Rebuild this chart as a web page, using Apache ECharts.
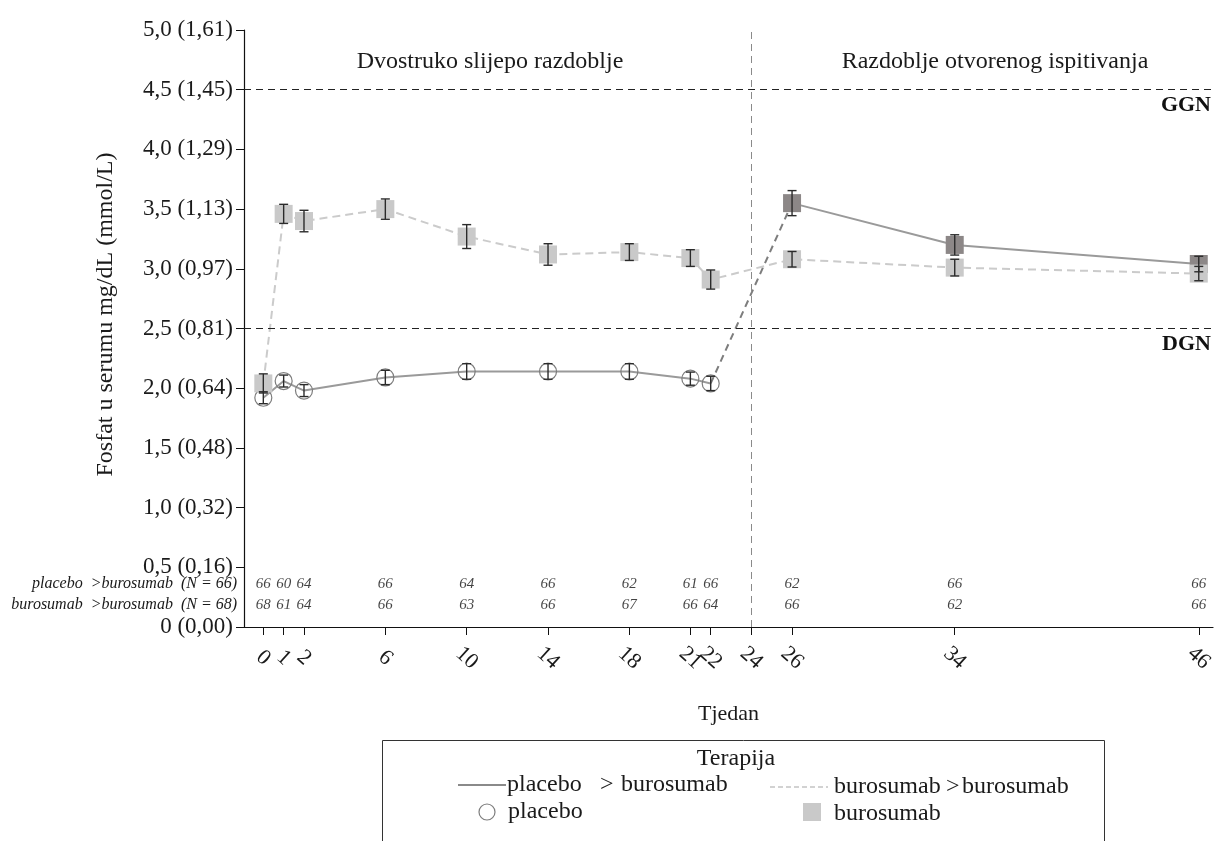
<!DOCTYPE html>
<html><head><meta charset="utf-8">
<script src="https://cdn.jsdelivr.net/npm/echarts@6/dist/echarts.min.js"></script>
<style>html,body{margin:0;padding:0;background:#fff}#c{width:1219px;height:841px}</style>
</head><body><div id="c"></div>
<script>
const weeks = [0,1,2,6,10,14,18,21,22,26,34,46];
const placeboMean = [1.92,2.06,1.98,2.09,2.14,2.14,2.14,2.08,2.04,3.55,3.20,3.04];
const placeboErr  = [0.05,0.05,0.05,0.06,0.065,0.065,0.065,0.055,0.06,0.105,0.085,0.065];
const burosumabMean = [2.04,3.46,3.40,3.50,3.27,3.12,3.14,3.09,2.91,3.08,3.01,2.96];
const burosumabErr  = [0.08,0.08,0.09,0.085,0.10,0.09,0.07,0.07,0.08,0.065,0.07,0.06];
const placeboN   = [66,60,64,66,64,66,62,61,66,62,66,66];
const burosumabN = [68,61,64,66,63,66,67,66,64,66,62,66];
const xTickLabels = ['0','1','2','6','10','14','18','21','22','24','26','34','46'];
const yTickLabels = ['0 (0,00)','0,5 (0,16)','1,0 (0,32)','1,5 (0,48)','2,0 (0,64)','2,5 (0,81)','3,0 (0,97)','3,5 (1,13)','4,0 (1,29)','4,5 (1,45)','5,0 (1,61)'];
const ULN = 4.5, LLN = 2.5, SWITCH_WEEK = 24;
const rowLabels = ['placebo  >burosumab  (N = 66)', 'burosumab  >burosumab  (N = 68)'];

const SERIF = '"Liberation Serif", "DejaVu Serif", serif';
const xTickVals = xTickLabels.map(Number);

function pts(mean, idx) { return idx.map(i => [weeks[i], mean[i]]); }
const dbIdx = [0,1,2,3,4,5,6,7,8], trIdx = [8,9], olIdx = [9,10,11], allIdx = weeks.map((_,i)=>i);

function errSeries(mean, err, z) {
  return {
    type: 'custom', z: z, silent: true,
    encode: {x: 0, y: [1, 2]},
    data: weeks.map((w, i) => [w, mean[i] - err[i], mean[i] + err[i]]),
    renderItem: function (params, api) {
      const lo = api.coord([api.value(0), api.value(1)]);
      const hi = api.coord([api.value(0), api.value(2)]);
      const cap = 4.5;
      const style = {stroke: '#2b2b2b', lineWidth: 1.4};
      return {type: 'group', children: [
        {type: 'line', shape: {x1: lo[0], y1: lo[1], x2: hi[0], y2: hi[1]}, style: style},
        {type: 'line', shape: {x1: lo[0]-cap, y1: lo[1], x2: lo[0]+cap, y2: lo[1]}, style: style},
        {type: 'line', shape: {x1: hi[0]-cap, y1: hi[1], x2: hi[0]+cap, y2: hi[1]}, style: style}
      ]};
    }
  };
}

function nSeries(nArr, yPos) {
  return {
    type: 'scatter', z: 8, silent: true, symbolSize: 0,
    data: weeks.map((w, i) => [w, yPos, nArr[i]]),
    label: {show: true, position: 'inside', formatter: p => String(p.data[2]),
      fontFamily: SERIF, fontStyle: 'italic', fontSize: 15, color: '#141414'}
  };
}

function txt(text, x, y, size, align, extra) {
  return {type: 'text', style: Object.assign({text: text, x: x, y: y, align: align || 'left',
    verticalAlign: 'middle', font: (extra || '') + size + 'px ' + SERIF, fill: '#1a1a1a'})};
}

const chart = echarts.init(document.getElementById('c'));
chart.setOption({
  animation: false,
  backgroundColor: '#ffffff',
  grid: {left: 244, right: 6, top: 30, bottom: 214},
  xAxis: {
    type: 'value', min: -0.95, max: 46.7,
    name: 'Tjedan', nameLocation: 'middle', nameGap: 76,
    nameTextStyle: {fontFamily: SERIF, fontSize: 22, color: '#1a1a1a'},
    splitLine: {show: false},
    axisLine: {onZero: false, lineStyle: {color: '#111', width: 1.2}},
    axisTick: {customValues: xTickVals, length: 8, lineStyle: {color: '#111'}},
    axisLabel: {customValues: xTickVals, rotate: -42, align: 'center', verticalAlign: 'middle',
      margin: 31, fontFamily: SERIF, fontSize: 22, color: '#1a1a1a',
      formatter: v => String(v)}
  },
  yAxis: {
    type: 'value', min: 0, max: 5, interval: 0.5,
    name: 'Fosfat u serumu mg/dL (mmol/L)', nameLocation: 'middle', nameRotate: 90, nameGap: 126,
    nameTextStyle: {fontFamily: SERIF, fontSize: 24, color: '#1a1a1a', padding: [0, 0, 0, 28]},
    splitLine: {show: false},
    axisLine: {show: true, onZero: false, lineStyle: {color: '#111', width: 1.2}},
    axisTick: {show: true, length: 8, lineStyle: {color: '#111'}},
    axisLabel: {fontFamily: SERIF, fontSize: 23, color: '#1a1a1a', margin: 11,
      formatter: v => yTickLabels[Math.round(v / 0.5)]}
  },
  series: [
    {
      type: 'scatter', data: [], silent: true, z: 1,
      markLine: {
        silent: true, symbol: 'none', animation: false,
        data: [
          {yAxis: ULN, lineStyle: {color: '#222', type: [7, 5], width: 1.2},
            label: {show: true, position: 'insideEndBottom', formatter: 'GGN', distance: [2, 5],
              fontFamily: SERIF, fontSize: 22, fontWeight: 'bold', color: '#111'}},
          {yAxis: LLN, lineStyle: {color: '#222', type: [7, 5], width: 1.2},
            label: {show: true, position: 'insideEndBottom', formatter: 'DGN', distance: [2, 5],
              fontFamily: SERIF, fontSize: 22, fontWeight: 'bold', color: '#111'}},
          {xAxis: SWITCH_WEEK, lineStyle: {color: '#8a8a8a', type: [7, 5], width: 1},
            label: {show: false}}
        ]
      }
    },
    {
      name: 'placebo DB', type: 'line', z: 3, data: pts(placeboMean, dbIdx),
      symbol: 'circle', symbolSize: 17,
      itemStyle: {color: 'rgba(255,255,255,0)', borderColor: '#7d7d7d', borderWidth: 1.2},
      lineStyle: {color: '#9a9a9a', width: 2, type: 'solid'}
    },
    {
      name: 'placebo switch', type: 'line', z: 2, data: pts(placeboMean, trIdx),
      symbol: 'none', lineStyle: {color: '#7d7d7d', width: 2, type: [7, 5]}
    },
    {
      name: 'placebo OL', type: 'line', z: 3, data: pts(placeboMean, olIdx),
      symbol: 'rect', symbolSize: 18,
      itemStyle: {color: '#8c8787'},
      lineStyle: {color: '#9a9a9a', width: 2, type: 'solid'}
    },
    {
      name: 'burosumab', type: 'line', z: 4, data: pts(burosumabMean, allIdx),
      symbol: 'rect', symbolSize: 18,
      itemStyle: {color: '#c9c9c9'},
      lineStyle: {color: '#cbcbcb', width: 2, type: [8, 5]}
    },
    errSeries(placeboMean, placeboErr, 6),
    errSeries(burosumabMean, burosumabErr, 6),
    nSeries(placeboN, 0.36),
    nSeries(burosumabN, 0.185)
  ],
  graphic: [
    txt('Dvostruko slijepo razdoblje', 490, 62, 24, 'center'),
    txt('Razdoblje otvorenog ispitivanja', 995, 62, 24, 'center'),
    txt(rowLabels[0], 237, 584, 16, 'right', 'italic '),
    txt(rowLabels[1], 237, 605, 16, 'right', 'italic '),
    // legend box
    {type: 'rect', shape: {x: 382.5, y: 740.5, width: 722, height: 110},
      style: {fill: '#fff', stroke: '#333', lineWidth: 1}},
    txt('Terapija', 736, 759, 24, 'center'),
    {type: 'line', shape: {x1: 458, y1: 785, x2: 506, y2: 785}, style: {stroke: '#8a8a8a', lineWidth: 2}},
    txt('placebo', 507, 785, 24),
    txt('>', 600, 785, 24),
    txt('burosumab', 621, 785, 24),
    {type: 'line', shape: {x1: 770, y1: 787, x2: 828, y2: 787}, style: {stroke: '#c4c4c4', lineWidth: 1.5, lineDash: [5, 3]}},
    txt('burosumab', 834, 787, 24),
    txt('>', 946, 787, 24),
    txt('burosumab', 962, 787, 24),
    {type: 'circle', shape: {cx: 487, cy: 812, r: 8}, style: {fill: 'none', stroke: '#7d7d7d', lineWidth: 1.2}},
    txt('placebo', 508, 812, 24),
    {type: 'rect', shape: {x: 803, y: 803, width: 18, height: 18}, style: {fill: '#c9c9c9'}},
    txt('burosumab', 834, 814, 24)
  ]
});
</script></body></html>
